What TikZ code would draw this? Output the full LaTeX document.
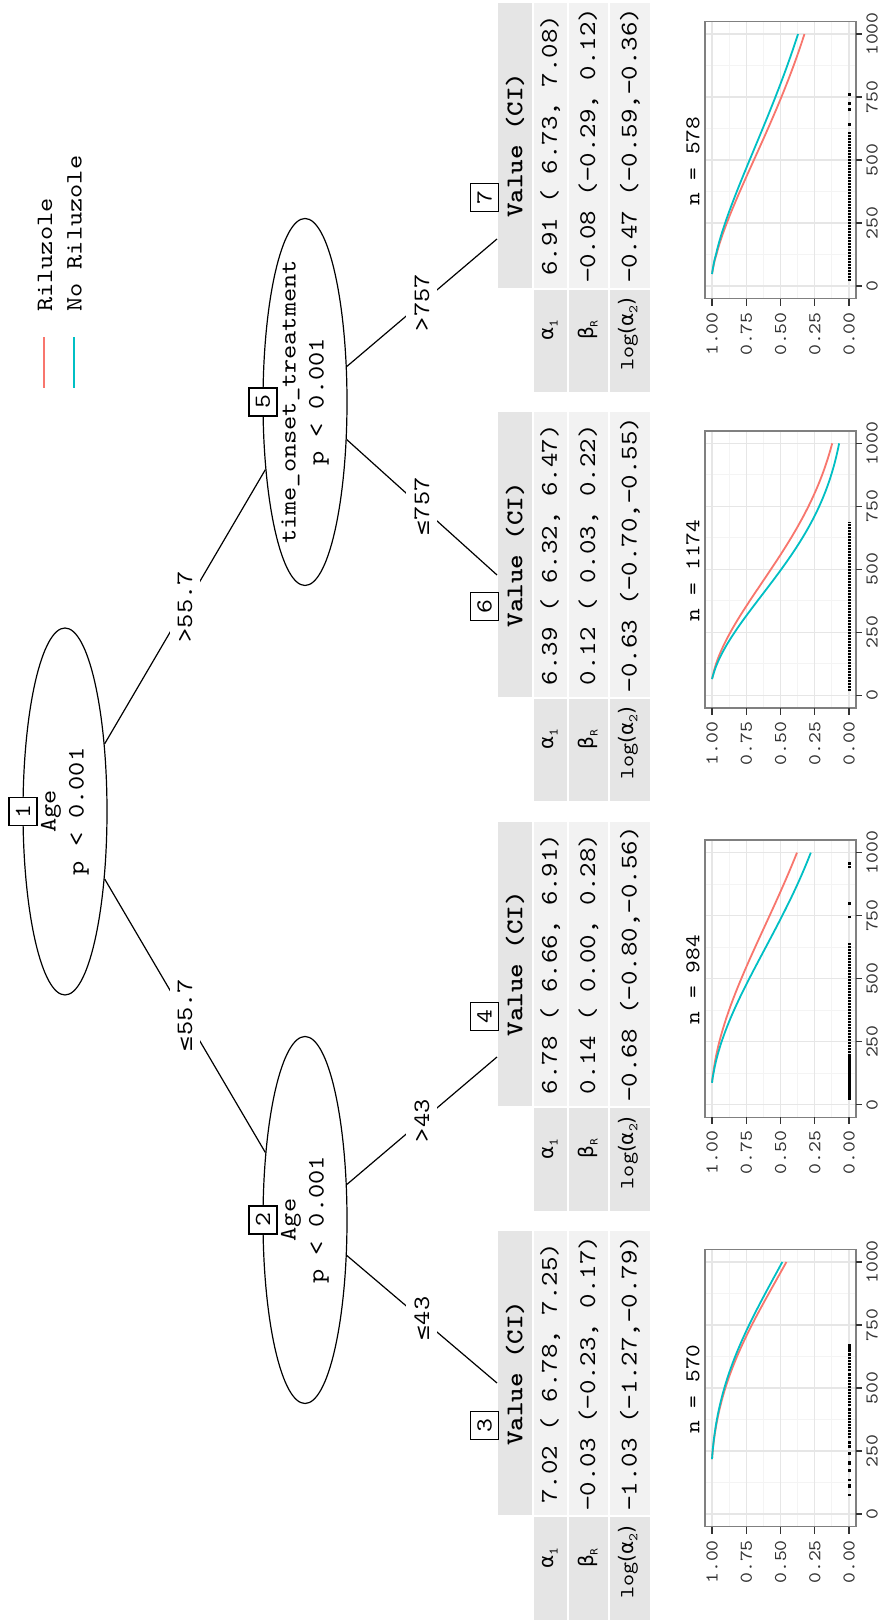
\documentclass[tikz,border=0pt]{standalone}
\usepackage{fontspec}
\setmonofont{lmmono10-regular.otf}[FakeStretch=1.15, BoldFont=lmmonolt10-bold.otf]
\newfontfamily\dvs{DejaVu Sans}
\usetikzlibrary{shapes.geometric}
\definecolor{ril}{HTML}{F8766D}
\definecolor{noril}{HTML}{00BFC4}
\definecolor{hdrgray}{HTML}{E5E5E5}
\definecolor{valgray}{HTML}{F2F2F2}
\definecolor{gridmaj}{HTML}{E6E6E6}
\definecolor{gridmin}{HTML}{F4F4F4}
\definecolor{panelborder}{HTML}{808080}
\newcommand\fs[1]{\fontsize{#1}{#1}\selectfont}
\newcommand\zb[1]{\makebox[0pt]{#1}}

% table: #1 L, #2 id, #3 r1, #4 r2, #5 r3
\newcommand\termtable[5]{%
  \node[hdrcell] (h#2) at ({#1+246.75},515) {Value (CI)};
  \node[valcell, minimum height=33.5pt] (va#2) at ({#1+246.75},550.25) {#3};
  \node[valcell, minimum height=39pt] (vb#2) at ({#1+246.75},588.5) {#4};
  \node[valcell, minimum height=40pt] (vc#2) at ({#1+246.75},630) {#5};
  \node[labcell, minimum height=33.5pt] (la#2) at ({#1+51.25},550.25) {};
  \node[labcell, minimum height=39pt] (lb#2) at ({#1+51.25},588.5) {};
  \node[labcell, minimum height=40pt] (lc#2) at ({#1+51.25},630) {};
  \node[labtext] (ta#2) at ({#1+62},550) {α\raisebox{-4pt}{\ttfamily\fs{13}1}};
  \node[labtext] (tb#2) at ({#1+62},588) {β\raisebox{-4pt}{\fs{10}R}};
  \node[labtext] (tc#2) at ({#1+58},628) {{\ttfamily log}(α\raisebox{-4pt}{\ttfamily\fs{13}2})};
  \node[idbox] (b#2) at ({#1+194.5},484.5) {#2};
}

% plot: #1 L, #2 id, #3 n, #4 a1, #5 b, #6 log a2, #7 t0, #8 dots, #9 dense ranges
\newcommand\termplot[9]{%
  \node[nlab] (nl#2) at ({#1+231},693) {n = #3};
  \begin{scope}[shift={({#1+106},849)}, x=0.252pt, y=137pt]
    \foreach \t in {125,375,625,875} \draw[gridmin, line width=0.9pt] (\t,-0.05) -- (\t,1.05);
    \foreach \s in {0.125,0.375,0.625,0.875} \draw[gridmin, line width=0.9pt] (-50,\s) -- (1050,\s);
    \foreach \t in {0,250,500,750,1000} \draw[gridmaj, line width=1.4pt] (\t,-0.05) -- (\t,1.05);
    \foreach \s in {0,0.25,0.5,0.75,1} \draw[gridmaj, line width=1.4pt] (-50,\s) -- (1050,\s);
    \foreach \t in {#8} \fill (\t,0) ++(-1.4pt,-1.5pt) rectangle ++(2.8pt,3pt);
    \foreach \a/\b in {#9} \draw[line width=3pt, dash pattern=on 2.4pt off 0.6pt] (\a,0) -- (\b,0);
    \pgfmathsetmacro\shp{exp(-(#6))}
    \pgfmathsetmacro\scR{exp(#4+#5)}
    \pgfmathsetmacro\scN{exp(#4)}
    \draw[ril, curvestyle] plot[domain=#7:1000, samples=50, smooth] (\x, {exp((#7/\scR)^\shp - (\x/\scR)^\shp)});
    \draw[noril, curvestyle] plot[domain=#7:1000, samples=50, smooth] (\x, {exp((#7/\scN)^\shp - (\x/\scN)^\shp)});
    \draw[panelborder, line width=1.5pt] (-50,-0.05) rectangle (1050,1.05);
    \foreach \s/\lab [count=\i] in {0/0.00,0.25/0.25,0.5/0.50,0.75/0.75,1/1.00}
      \draw[tickc] (-50,\s) -- ++(-7pt,0) node[ticklab, anchor=east, xshift=-6pt] (yl#2-\i) {\lab};
    \foreach \t [count=\i] in {0,250,500,750,1000}
      \draw[tickc] (\t,-0.05) -- ++(0,-6pt) node[ticklab, anchor=north, yshift=-4pt] (xl#2-\i) {\t};
  \end{scope}
}

\begin{document}
\begin{tikzpicture}[x=1pt,y=-1pt,rotate=90,transform shape,
  treefont/.style={font=\ttfamily\fontsize{23.5}{28}\selectfont},
  splitnode/.style={ellipse, draw, line width=1.2pt, fill=white, minimum width=367pt, minimum height=84pt, inner sep=0pt, align=center, treefont},
  idbox/.style={draw, line width=1.1pt, fill=white, minimum size=28pt, inner sep=0pt, font=\ttfamily\fs{23}},
  treeedge/.style={line width=1.2pt},
  elab/.style={fill=white, inner xsep=5pt, inner ysep=8pt, treefont},
  hdrcell/.style={fill=hdrgray, minimum width=284.5pt, minimum height=34pt, inner sep=0pt, font=\ttfamily\bfseries\fs{24}},
  valcell/.style={fill=valgray, minimum width=284.5pt, inner sep=0pt, font=\ttfamily\fs{24}},
  labcell/.style={fill=hdrgray, minimum width=102.5pt, inner sep=0pt},
  labtext/.style={inner sep=0pt, font=\dvs\fs{20}},
  nlab/.style={font=\ttfamily\fs{21}, inner sep=0pt},
  ticklab/.style={font=\ttfamily\fs{18}, text=black!80, inner sep=0pt},
  tickc/.style={black!80, line width=1.2pt},
  curvestyle/.style={line width=1.8pt},
  legline/.style={line width=1.8pt}
]
\fill[white] (0,0) rectangle (1621,880);
\useasboundingbox (0,0) rectangle (1621,880);

% inner nodes
\node[splitnode] (n1) at (809.5,65) {\zb{Age}\\\zb{p < 0.001}};
\node[splitnode] (n2) at (401,305) {\zb{Age}\\\zb{p < 0.001}};
\node[splitnode] (n5) at (1219,305) {\zb{time\_onset\_treatment}\\\zb{p < 0.001}};

\coordinate (e3) at (238,497);
\coordinate (e4) at (564,497);
\coordinate (e6) at (1046,497);
\coordinate (e7) at (1382,497);

\draw[treeedge] (n1) -- node[elab] (l12) {{\dvs\fs{20}≤}55.7} (n2);
\draw[treeedge] (n1) -- node[elab] (l15) {>55.7} (n5);
\draw[treeedge] (n2) -- node[elab] (l23) {{\dvs\fs{20}≤}43} (e3);
\draw[treeedge] (n2) -- node[elab] (l24) {>43} (e4);
\draw[treeedge] (n5) -- node[elab] (l56) {{\dvs\fs{20}≤}757} (e6);
\draw[treeedge] (n5) -- node[elab] (l57) {>757} (e7);

\node[idbox] (b1) at (809.5,23) {1};
\node[idbox] (b2) at (401,263) {2};
\node[idbox] (b5) at (1219,263) {5};

% terminal tables
\termtable{1}{3}{7.02 ( 6.78, 7.25)}{−0.03 (−0.23, 0.17)}{−1.03 (−1.27,−0.79)}
\termtable{410.3}{4}{6.78 ( 6.66, 6.91)}{0.14 ( 0.00, 0.28)}{−0.68 (−0.80,−0.56)}
\termtable{819.6}{6}{6.39 ( 6.32, 6.47)}{0.12 ( 0.03, 0.22)}{−0.63 (−0.70,−0.55)}
\termtable{1228.9}{7}{6.91 ( 6.73, 7.08)}{−0.08 (−0.29, 0.12)}{−0.47 (−0.59,−0.36)}

% terminal plots
\termplot{1}{3}{570}{7.02}{-0.03}{-1.03}{218}{75,108,113,135,172,200,206,240,268,285,650,660,670}{300/420,428/560,566/640}
\termplot{410.3}{4}{984}{6.78}{0.14}{-0.68}{87}{745,797,943,956}{20/200,205/640}
\termplot{819.6}{6}{1174}{6.39}{0.12}{-0.63}{65}{}{17/688}
\termplot{1228.9}{7}{578}{6.91}{-0.08}{-0.47}{48}{640,700,725,760}{20/610}

% legend
\draw[ril, legline] (1233,44) -- (1284,44);
\draw[noril, legline] (1233,74) -- (1284,74);
\node[treefont, anchor=west, inner sep=0pt] (legR) at (1309,45) {Riluzole};
\node[treefont, anchor=west, inner sep=0pt] (legN) at (1309,74.5) {No Riluzole};
\end{tikzpicture}
\end{document}
